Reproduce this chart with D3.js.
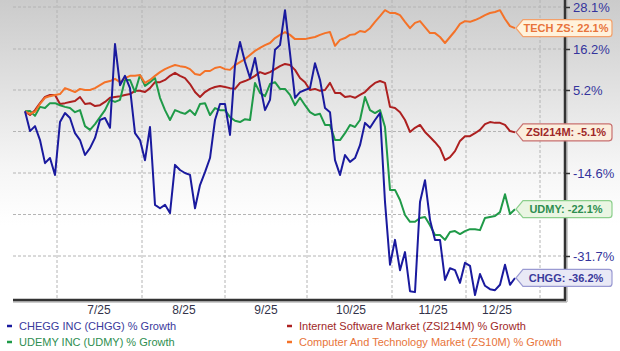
<!DOCTYPE html>
<html>
<head>
<meta charset="utf-8">
<script src="https://cdn.jsdelivr.net/npm/d3@7"></script>
<style>
  body { margin: 0; background: #fff; }
  svg { display: block; font-family: Arial, "Liberation Sans", sans-serif; }
</style>
</head>
<body>
<div id="chart"></div>
<script>
// % growth, one value per trading day
const chgg = [
  0, -4.8, -3.6, -6.9, -12.3, -11.1, -15.0, -2.6, -0.4, -1.6,
  -5.3, -6.9, -10.4, -8.8, -6.4, -2.1, -1.6, -4.0, 17.6, 6.5,
  9.0, 5.7, -5.3, -6.9, -11.6, -3.8, -21.2, -21.9, -21.2, -22.9,
  -12.7, -13.9, -14.6, -15.0, -21.9, -17.1, -14.4, -11.1, -2.1, 1.8,
  1.8, -5.7, 11.9, 18.2, 12.7, 8.4, 13.8, 6.5, 0.3, 2.8,
  16.0, 17.3, 27.2, 15.1, 3.3, 4.7, 5.2, 5.7, 12.4, 7.9,
  0.8, -0.2, -11.6, -15.0, -10.4, -12.0, -11.1, -8.1, -2.8, -4.0,
  -2.1, -0.4, -20.6, -33.5, -28.4, -34.6, -30.9, -38.9, -39.1, -20.6,
  -16.1, -24.3, -28.4, -28.4, -36.6, -34.2, -34.6, -37.2, -33.1, -33.7,
  -39.7, -35.4, -37.8, -38.5, -38.7, -37.6, -33.5, -37.6, -36.2
];
const udmy = [
  0, 0.1, -1.1, 1.1, 0.8, 2.0, 2.0, 1.5, 1.1, 0.8,
  -0.2, 0.3, -3.6, -4.5, -3.1, -1.4, 0.3, 2.8, 2.3, 2.8,
  7.9, 7.9, 4.7, 9.2, 6.3, 7.3, 8.4, 3.3, 0.3, -2.1,
  0.3, -0.2, -0.6, 0.3, -0.9, 1.8, 2.0, -0.9, 0.8, 0.3,
  0.3, -1.4, -2.3, -2.6, -1.9, -2.1, 7.1, 4.5, 3.7, 6.8,
  7.3, 5.5, 5.5, 4.0, 1.5, 3.3, 1.5, -0.2, -0.9, -0.6,
  -3.3, -3.3, -6.9, -6.9, -5.3, -3.3, -3.8, -2.1, 3.5, 0.3,
  -0.4, 0.3, -3.8, -18.1, -18.1, -20.2, -23.3, -24.7, -24.7, -23.9,
  -23.7, -25.4, -27.4, -27.4, -28.4, -26.8, -26.6, -27.2, -26.6, -26.2,
  -26.2, -26.4, -23.9, -23.7, -23.5, -22.7, -19.0, -23.1, -22.1
];
const zsi214m = [
  0, -0.9, 0.3, 2.0, 3.5, 4.0, 4.0, 1.8, 2.0, 2.3,
  2.5, 3.5, 1.8, 2.0, 1.3, 1.5, 2.3, 3.3, 3.5, 3.7,
  4.0, 4.2, 5.0, 5.0, 4.7, 5.7, 7.3, 7.3, 7.9, 9.0,
  9.8, 9.0, 8.4, 6.8, 4.7, 3.5, 4.7, 5.5, 6.0, 6.3,
  6.0, 5.7, 5.5, 7.1, 7.6, 8.2, 9.0, 10.0, 9.5, 10.0,
  10.8, 11.6, 12.2, 11.9, 10.6, 8.4, 7.3, 5.2, 5.5, 5.0,
  5.2, 7.1, 4.5, 4.5, 3.5, 3.7, 3.3, 4.0, 4.7, 6.0,
  7.1, 7.6, 7.1, 1.1, 0.8, -0.2, -2.1, -5.0, -4.0, -3.3,
  -5.0, -6.2, -7.4, -8.8, -11.6, -10.9, -9.5, -7.1, -6.0, -6.0,
  -5.3, -4.5, -3.1, -2.6, -2.8, -2.8, -3.3, -4.8, -5.1
];
const zs10m = [
  0, -0.6, -0.1, 1.8, 3.3, 3.7, 4.0, 4.2, 5.7, 5.2,
  4.7, 5.5, 5.2, 5.2, 5.7, 6.5, 7.3, 7.6, 8.2, 7.3,
  8.4, 9.0, 9.0, 9.2, 7.1, 7.9, 9.0, 10.0, 10.8, 11.4,
  11.9, 11.6, 11.4, 10.8, 9.5, 9.2, 10.3, 10.3, 11.1, 11.4,
  10.8, 10.6, 11.9, 12.7, 13.5, 14.6, 15.7, 16.5, 17.3, 17.9,
  19.3, 20.2, 21.0, 20.2, 19.0, 19.0, 19.0, 19.3, 19.6, 20.2,
  20.7, 21.0, 17.1, 18.8, 19.3, 20.2, 20.4, 21.3, 21.0, 22.1,
  23.9, 25.5, 27.2, 26.4, 26.4, 25.8, 23.9, 22.1, 23.6, 24.1,
  22.4, 20.7, 20.7, 19.6, 17.9, 19.6, 21.3, 23.3, 24.1, 23.9,
  24.4, 25.0, 25.8, 26.4, 26.7, 27.2, 24.7, 22.7, 22.1
];

// x axis: month boundaries and month labels, in trading-day index
const monthStarts = [6.4, 23.4, 40, 56.4, 73.4, 88.2, 103];
const monthLabels = ["7/25", "8/25", "9/25", "10/25", "11/25", "12/25"];
const monthLabelAt = [14.8, 31.8, 48.2, 65.2, 81.6, 94.4];

// right axis tick values (%)
const yTicks = [28.1, 16.2, 5.2, -4.9, -14.6, -23.2, -31.7];

const series = [
  { key: "zsi", values: zsi214m, tag: "ZSI214M", legend: "Internet Software Market (ZSI214M) % Growth",
    color: "#ad2020", text: "#a02828", fill: "#fbeedd", edge: "#c87070" },
  { key: "udmy", values: udmy, tag: "UDMY", legend: "UDEMY INC (UDMY) % Growth",
    color: "#1f9a48", text: "#2e8e50", fill: "#eaf6e3", edge: "#8ccf8c" },
  { key: "tech", values: zs10m, tag: "TECH ZS", legend: "Computer And Technology Market (ZS10M) % Growth",
    color: "#f47228", text: "#e8743a", fill: "#fff2dc", edge: "#f4a06a" },
  { key: "chgg", values: chgg, tag: "CHGG", legend: "CHEGG INC (CHGG) % Growth",
    color: "#1a1a9e", text: "#3a3a9c", fill: "#e9e9f6", edge: "#9a9ad2" }
];

const width = 620, height = 351;
const plot = { left: 13, right: 565, top: 0, bottom: 300 };

const svg = d3.select("#chart").append("svg")
  .attr("width", width)
  .attr("height", height);

// background gradient
const grad = svg.append("defs").append("linearGradient")
  .attr("id", "bg").attr("x1", 0).attr("y1", 0).attr("x2", 0).attr("y2", 1);
grad.append("stop").attr("offset", "0%").attr("stop-color", "#cbcbcb");
grad.append("stop").attr("offset", "55%").attr("stop-color", "#f5f5f5");
grad.append("stop").attr("offset", "75%").attr("stop-color", "#ffffff");

svg.append("rect")
  .attr("x", 0).attr("y", 0)
  .attr("width", width).attr("height", plot.bottom)
  .attr("fill", "url(#bg)");

const n = zs10m.length;
const x = d3.scaleLinear().domain([0, n - 1]).range([25, 515]);
const y = d3.scaleLinear()
  .domain(yTicks)
  .range([7, 49, 90, 131.5, 173, 214.5, 256]);

// grid
svg.append("g")
  .selectAll("line")
  .data(yTicks)
  .join("line")
  .attr("x1", plot.left).attr("x2", plot.right)
  .attr("y1", d => y(d)).attr("y2", d => y(d))
  .attr("stroke", "#b4b4b4")
  .attr("stroke-dasharray", "3,2");

svg.append("g")
  .selectAll("line")
  .data(monthStarts)
  .join("line")
  .attr("x1", d => x(d)).attr("x2", d => x(d))
  .attr("y1", plot.top).attr("y2", plot.bottom)
  .attr("stroke", "#b4b4b4")
  .attr("stroke-dasharray", "3,2");

// lines
const line = d3.line()
  .x((d, i) => x(i))
  .y(d => y(d));

svg.append("g")
  .selectAll("path")
  .data(series)
  .join("path")
  .attr("d", d => line(d.values))
  .attr("fill", "none")
  .attr("stroke", d => d.color)
  .attr("stroke-width", 2)
  .attr("stroke-linejoin", "round");

// axes frame
svg.append("line")
  .attr("x1", plot.left).attr("x2", plot.right + 2)
  .attr("y1", plot.bottom + 2).attr("y2", plot.bottom + 2)
  .attr("stroke", "#bbb").attr("stroke-width", 1.5);
svg.append("line")
  .attr("x1", plot.right + 2).attr("x2", plot.right + 2)
  .attr("y1", 0).attr("y2", plot.bottom + 2)
  .attr("stroke", "#bbb").attr("stroke-width", 1.5);
svg.append("line")
  .attr("x1", plot.left).attr("x2", plot.right + 1)
  .attr("y1", plot.bottom).attr("y2", plot.bottom)
  .attr("stroke", "#333").attr("stroke-width", 2.5);
svg.append("line")
  .attr("x1", plot.right).attr("x2", plot.right)
  .attr("y1", 0).attr("y2", plot.bottom)
  .attr("stroke", "#333").attr("stroke-width", 2.5);

// tick labels that sit under an end-of-line callout are hidden, as in the original
const lastYs = series.map(s => y(s.values[s.values.length - 1]));
const covered = d => lastYs.some(v => Math.abs(v - y(d)) < 9);

const yAxis = svg.append("g")
  .attr("transform", "translate(" + plot.right + ",0)")
  .call(d3.axisRight(y)
    .tickValues(yTicks)
    .tickSize(5)
    .tickPadding(3)
    .tickFormat(d => covered(d) ? "" : d.toFixed(1) + "%"));
yAxis.select(".domain").remove();
yAxis.selectAll(".tick line").attr("stroke", "#333").attr("stroke-width", 1.5);
yAxis.selectAll(".tick text")
  .attr("fill", "#34349c")
  .style("font-size", "13px")
  .style("font-family", "Arial, 'Liberation Sans', sans-serif");

// month labels
svg.append("g")
  .selectAll("text")
  .data(monthLabels)
  .join("text")
  .attr("x", (d, i) => x(monthLabelAt[i]))
  .attr("y", 314)
  .attr("text-anchor", "middle")
  .attr("fill", "#33334a")
  .style("font-size", "12px")
  .text(d => d);

// end-of-line callouts
function callout(x0, cy, w, h) {
  const t = cy - h / 2, b = cy + h / 2, r = 3, p = 7;
  return "M" + x0 + "," + cy + "L" + (x0 + p) + "," + t +
    "H" + (x0 + w - r) + "Q" + (x0 + w) + "," + t + " " + (x0 + w) + "," + (t + r) +
    "V" + (b - r) + "Q" + (x0 + w) + "," + b + " " + (x0 + w - r) + "," + b +
    "H" + (x0 + p) + "Z";
}

const tags = svg.append("g")
  .selectAll("g")
  .data(series)
  .join("g");

tags.append("path")
  .attr("d", d => callout(x(n - 1) + 1, y(d.values[n - 1]), 96, 17))
  .attr("fill", d => d.fill)
  .attr("stroke", d => d.edge)
  .attr("stroke-width", 1.2);

tags.append("text")
  .attr("x", 566)
  .attr("y", d => y(d.values[n - 1]) + 4)
  .attr("text-anchor", "middle")
  .attr("fill", d => d.text)
  .style("font-size", "11px")
  .style("font-weight", "bold")
  .text(d => d.tag + ": " + d.values[n - 1].toFixed(1) + "%");

// legend
const legendOrder = [
  { s: "chgg", col: 0, row: 0 },
  { s: "udmy", col: 0, row: 1 },
  { s: "zsi", col: 1, row: 0 },
  { s: "tech", col: 1, row: 1 }
];
const legX = [7, 287];
const legY = 326;

legendOrder.forEach(item => {
  const s = series.find(d => d.key === item.s);
  const lx = legX[item.col], ly = legY + item.row * 16;
  svg.append("line")
    .attr("x1", lx).attr("x2", lx + 5)
    .attr("y1", ly).attr("y2", ly)
    .attr("stroke", s.color)
    .attr("stroke-width", 2.5);
  svg.append("text")
    .attr("x", lx + 12)
    .attr("y", ly + 4)
    .attr("fill", s.text)
    .style("font-size", "11px")
    .text(s.legend);
});
</script>
</body>
</html>
